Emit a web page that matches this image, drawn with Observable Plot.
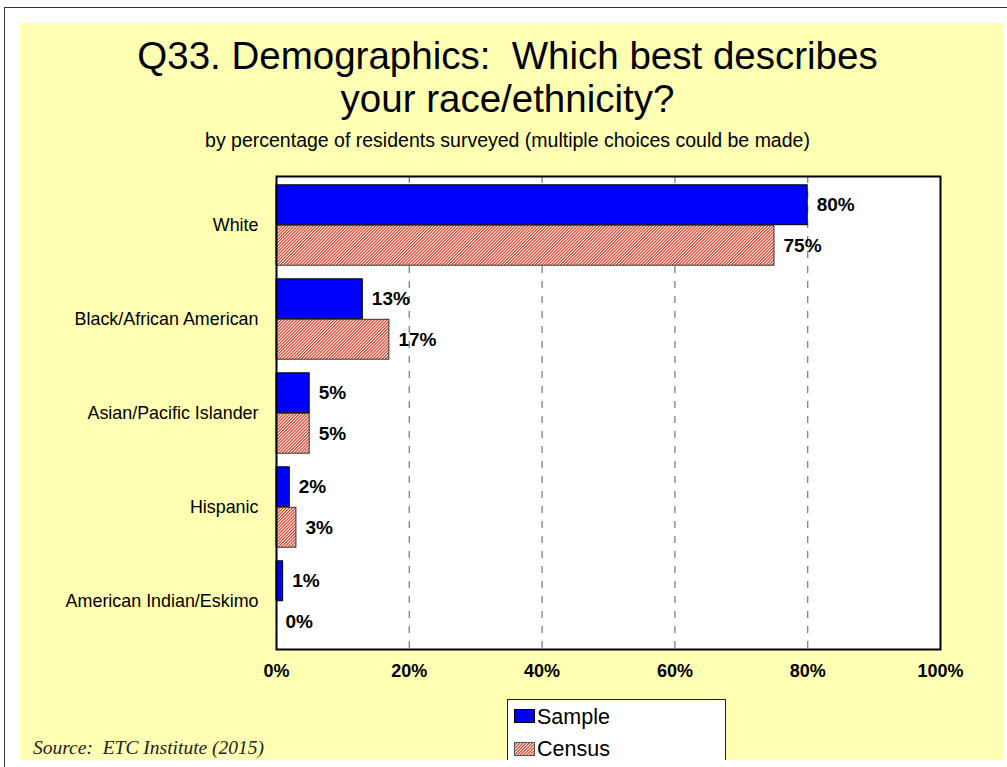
<!DOCTYPE html>
<html>
<head>
<meta charset="utf-8">
<script src="https://cdn.jsdelivr.net/npm/d3@7"></script>
<script src="https://cdn.jsdelivr.net/npm/@observablehq/plot@0.6"></script>
<style>
  html, body { margin: 0; padding: 0; background: #fff; overflow: hidden; }
  #page { position: relative; width: 1007px; height: 767px; overflow: hidden; font-family: "Liberation Sans", Arial, sans-serif; }
  #edge { position: absolute; left: 4px; top: 7px; width: 1100px; height: 800px; border-top: 1.5px solid #333; border-left: 1.5px solid #333; }
  #panel { position: absolute; left: 20px; top: 23px; width: 983px; height: 737px; background: #FFFFB3; overflow: hidden; }
  .title { position: absolute; left: 0; width: 1007px; text-align: center; line-height: 1; color: #000; white-space: pre; }
  #legend { position: absolute; left: 487px; top: 676px; width: 219px; height: 90px; background: #fff; border: 1px solid #222; box-sizing: border-box; }
  .item { position: absolute; left: 29px; font-size: 21.5px; line-height: 1; color: #000; }
  .sw { position: absolute; left: 6px; }
  #source { position: absolute; left: 13px; top: 714.5px; font-family: "Liberation Serif", "Times New Roman", serif; font-style: italic; font-size: 19.5px; line-height: 1; color: #222; white-space: pre; }
  #chart { position: absolute; left: 0; top: 0; }
</style>
</head>
<body>
<div id="page">
  <div id="edge"></div>
  <div id="panel">
    <div id="legend"></div>
    <div id="source">Source:  ETC Institute (2015)</div>
  </div>
  <div id="chart"></div>
  <div class="title" style="top:37.4px;font-size:38.5px;left:4px;">Q33. Demographics:  Which best describes</div>
  <div class="title" style="top:80px;font-size:38.5px;left:4px;">your race/ethnicity?</div>
  <div class="title" style="top:130.5px;font-size:19.5px;left:4px;">by percentage of residents surveyed (multiple choices could be made)</div>
</div>
<script>
// Race/ethnicity categories and the two series (survey sample vs. census)
const categories = ["White", "Black/African American", "Asian/Pacific Islander", "Hispanic", "American Indian/Eskimo"];
const sampleValues = [80, 13, 5, 2, 1];
const censusValues = [75, 17, 5, 3, 0];
const seriesNames = ["Sample", "Census"];
const xTicks = [0, 20, 40, 60, 80, 100];
const gridTicks = [20, 40, 60, 80];

const rows = categories.map((category, i) => ({
  category,
  sample: sampleValues[i],
  census: censusValues[i]
}));

const sampleColor = "#0000FF";
const hatchColor = "#D8341A";

// Each category band holds two bars: Sample on top, Census below
const band = (767 - 176 - 118) / categories.length;
const barH = 40.5;
const outer = band / 2 - barH;
const inner = band / 2;

const chart = Plot.plot({
  width: 1007,
  height: 767,
  marginLeft: 276,
  marginRight: 67,
  marginTop: 176,
  marginBottom: 118,
  style: { background: "transparent", fontFamily: "'Liberation Sans', Arial, sans-serif", color: "#000", overflow: "visible" },
  x: { domain: [0, 100] },
  y: { domain: categories, padding: 0 },
  marks: [
    Plot.frame({ fill: "white" }),
    Plot.ruleX(gridTicks, { stroke: "#808080", strokeWidth: 1.3, strokeDasharray: "7,8" }),
    Plot.barX(rows, { y: "category", x: "sample", fill: sampleColor, stroke: "#000", strokeWidth: 1, insetTop: outer, insetBottom: inner }),
    Plot.barX(rows, { y: "category", x: "census", fill: "url(#hatch)", stroke: "#333", strokeWidth: 1, insetTop: inner, insetBottom: outer }),
    Plot.text(rows, { y: "category", x: "sample", text: d => d.sample + "%", dx: 9, dy: -barH / 2, textAnchor: "start", fontWeight: "bold", fontSize: 19, fill: "#000" }),
    Plot.text(rows, { y: "category", x: "census", text: d => d.census + "%", dx: 9, dy: barH / 2, textAnchor: "start", fontWeight: "bold", fontSize: 19, fill: "#000" }),
    Plot.axisY({ tickSize: 0, tickPadding: 18, fontSize: 17.9, label: null }),
    Plot.axisX({ ticks: xTicks, tickFormat: d => d + "%", tickSize: 0, tickPadding: 15, fontSize: 18, fontWeight: "bold", label: null }),
    Plot.frame({ stroke: "#000", strokeWidth: 2 })
  ]
});

// Diagonal hatch used by the census bars and its legend swatch
const defs = d3.select(chart).insert("defs", ":first-child");
const pat = defs.append("pattern")
  .attr("id", "hatch")
  .attr("patternUnits", "userSpaceOnUse")
  .attr("width", 2.2)
  .attr("height", 10)
  .attr("patternTransform", "rotate(45)");
pat.append("rect").attr("width", 2.2).attr("height", 10).attr("fill", "#fff");
pat.append("rect").attr("width", 1.15).attr("height", 10).attr("fill", hatchColor);

document.getElementById("chart").appendChild(chart);

// Legend
const legend = d3.select("#legend");
const swatchFill = { Sample: sampleColor, Census: "url(#hatch)" };
const swatchTop = { Sample: 9, Census: 42 };
const textTop = { Sample: 6.5, Census: 38.5 };
seriesNames.forEach(name => {
  const sw = legend.append("svg")
    .attr("class", "sw")
    .attr("width", 21)
    .attr("height", 14)
    .style("top", swatchTop[name] + "px");
  sw.append("rect")
    .attr("x", 0.5).attr("y", 0.5)
    .attr("width", 20).attr("height", 13)
    .attr("fill", swatchFill[name])
    .attr("stroke", name === "Sample" ? "#000" : "#555")
    .attr("stroke-width", 1);
  legend.append("div")
    .attr("class", "item")
    .style("top", textTop[name] + "px")
    .text(name);
});
</script>
</body>
</html>
